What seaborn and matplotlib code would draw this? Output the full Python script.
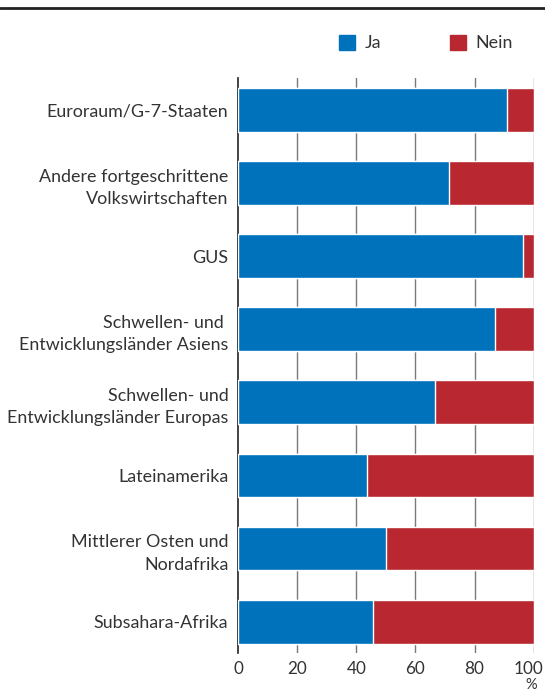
import matplotlib
matplotlib.use("Agg")
import matplotlib.pyplot as plt
import matplotlib.patches as mpatches
import matplotlib.transforms as mtransforms
from matplotlib.lines import Line2D
import seaborn as sns
import pandas as pd

categories = [
    "Euroraum/G-7-Staaten",
    "Andere fortgeschrittene\nVolkswirtschaften",
    "GUS",
    "Schwellen- und \nEntwicklungsländer Asiens",
    "Schwellen- und\nEntwicklungsländer Europas",
    "Lateinamerika",
    "Mittlerer Osten und\nNordafrika",
    "Subsahara-Afrika",
]
ja = [91.0, 71.5, 96.3, 87.0, 66.6, 43.6, 50.0, 45.6]
nein = [100 - v for v in ja]
series = ["Ja", "Nein"]
x_ticks = [0, 20, 40, 60, 80, 100]

BLUE = "#0072BB"
RED = "#B92831"
TXT = "#333333"
FS = 12.9

sns.set_theme(style="white")
plt.rcParams["font.family"] = ["Lato", "DejaVu Sans"]

df = pd.DataFrame({"cat": categories, "Ja": ja, "Nein": nein})
df["total"] = df["Ja"] + df["Nein"]

fig = plt.figure(figsize=(5.45, 6.93), dpi=100)
ax = fig.add_axes([238 / 545, 1 - 653 / 693, (533.7 - 238) / 545, (653 - 78) / 693])

sns.barplot(data=df, y="cat", x="total", color=RED, orient="h", width=0.6,
            ax=ax, saturation=1, zorder=3)
sns.barplot(data=df, y="cat", x="Ja", color=BLUE, orient="h", width=0.6,
            ax=ax, saturation=1, zorder=4)

ax.set_xlim(0, 100)
ax.set_ylim(7.43, -0.44)
ax.set_xticks(x_ticks)
ax.set_xlabel("")
ax.set_ylabel("")
for x in x_ticks[1:]:
    ax.axvline(x, color="#7a7a7a", lw=1.0, zorder=1)
for s in ["top", "right", "bottom"]:
    ax.spines[s].set_visible(False)
ax.spines["left"].set_color("#222222")
ax.spines["left"].set_linewidth(1.2)
ax.tick_params(axis="both", length=0, colors=TXT, labelsize=FS)
ax.tick_params(axis="x", pad=6, labelsize=12.3)
ax.tick_params(axis="y", pad=7)
for lab in ax.get_yticklabels():
    lab.set_ha("right")
    lab.set_multialignment("right")
    lab.set_linespacing(1.5)

# keep the last x tick label inside the figure
last = ax.get_xticklabels()[-1]
last.set_transform(last.get_transform() +
                   mtransforms.ScaledTranslation(-5 / 100, 0, fig.dpi_scale_trans))

fig.text(531 / 545, 1 - 692 / 693, "%", ha="center", va="bottom",
         fontsize=10.5, color=TXT)

fig.add_artist(Line2D([0, 1], [1 - 7.5 / 693, 1 - 7.5 / 693], color="#222222",
                      lw=2.0, transform=fig.transFigure))

handles = [mpatches.Patch(color=BLUE, label=series[0]),
           mpatches.Patch(color=RED, label=series[1])]
fig.legend(handles=handles, loc="center right", ncol=2,
           bbox_to_anchor=(522 / 545, 1 - 43 / 693), frameon=False,
           fontsize=FS, handlelength=0.9, handleheight=0.9,
           handletextpad=0.55, columnspacing=3.8, borderpad=0,
           labelcolor=TXT)

fig.savefig("out.png", dpi=100)
